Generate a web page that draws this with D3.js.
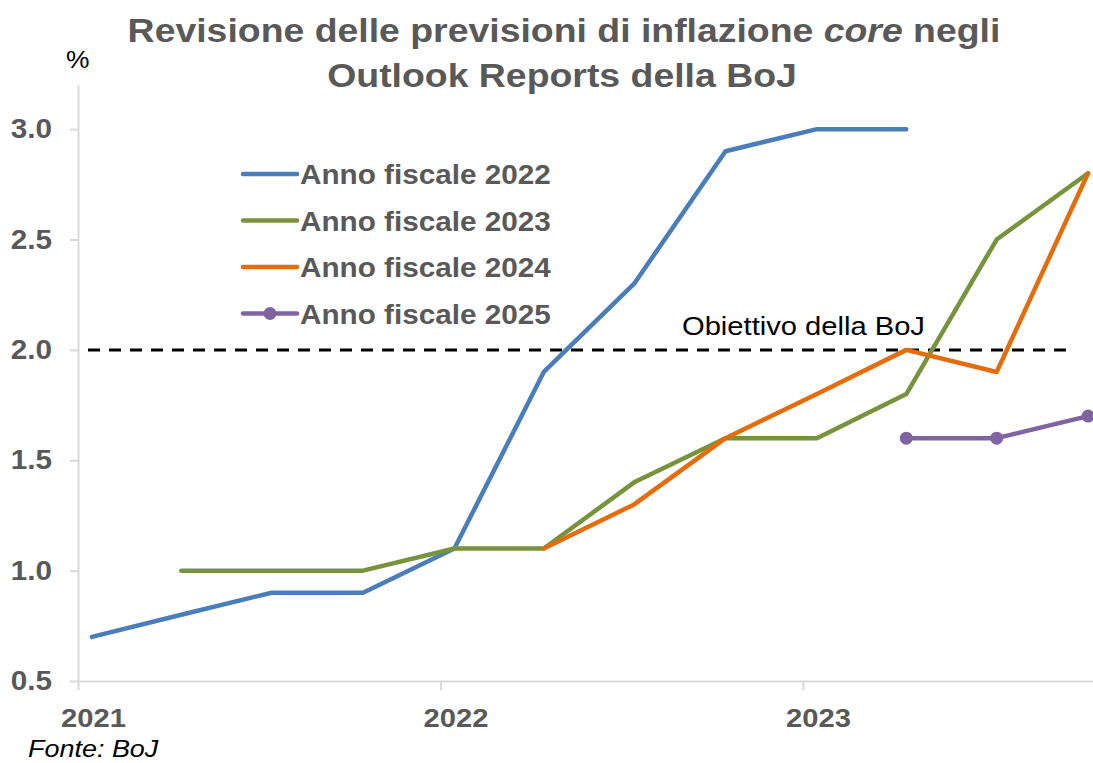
<!DOCTYPE html>
<html>
<head>
<meta charset="utf-8">
<script src="https://cdn.jsdelivr.net/npm/d3@7"></script>
<style>
  body { margin: 0; background: #fff; }
  svg { font-family: "Liberation Sans", Arial, sans-serif; }
</style>
</head>
<body>
<svg width="1093" height="763"></svg>
<script>
// report dates (quarterly Outlook Reports)
var dates = ["2021-01-15","2021-04-15","2021-07-15","2021-10-15",
             "2022-01-15","2022-04-15","2022-07-15","2022-10-15",
             "2023-01-15","2023-04-15","2023-07-15","2023-10-15"];

// forecasts, null = not yet forecast / no longer published
var fy2022 = [0.7, 0.8, 0.9, 0.9, 1.1, 1.9, 2.3, 2.9, 3.0, 3.0, null, null];
var fy2023 = [null, 1.0, 1.0, 1.0, 1.1, 1.1, 1.4, 1.6, 1.6, 1.8, 2.5, 2.8];
var fy2024 = [null, null, null, null, null, 1.1, 1.3, 1.6, 1.8, 2.0, 1.9, 2.8];
var fy2025 = [null, null, null, null, null, null, null, null, null, 1.6, 1.6, 1.7];

var seriesNames = ["Anno fiscale 2022", "Anno fiscale 2023", "Anno fiscale 2024", "Anno fiscale 2025"];
var target = 2.0;
var yTicks = [0.5, 1.0, 1.5, 2.0, 2.5, 3.0];
var xTicks = ["2021-01-01", "2022-01-01", "2023-01-01"];

var svg = d3.select("svg"),
    width = +svg.attr("width"),
    height = +svg.attr("height");

var parse = d3.timeParse("%Y-%m-%d");
var K = 1.1; // the original text is a bit wider than Liberation Sans

// widen text horizontally around its anchor point
function stretch(sel) {
  sel.each(function(){
    var t = d3.select(this);
    var tx = +t.attr("x") || 0, ty = +t.attr("y") || 0;
    t.attr("x", 0).attr("y", 0)
     .attr("transform", "translate(" + tx + "," + ty + ") scale(" + K + ",1)");
  });
}

var x = d3.scaleTime()
    .domain([parse("2021-01-01"), parse("2023-10-20")])
    .range([78, 1093]);

var y = d3.scaleLinear()
    .domain([0.5, 3.2])
    .range([681, 85]);

var colors = ["#4a7ebb", "#77933c", "#e46c0a", "#8064a2"];
var allSeries = [fy2022, fy2023, fy2024, fy2025];

// title
var t1 = svg.append("text")
    .attr("x", 564).attr("y", 42)
    .attr("text-anchor", "middle")
    .style("font-size", "34px").style("font-weight", "bold").style("fill", "#595959");
t1.append("tspan").text("Revisione delle previsioni di inflazione ");
t1.append("tspan").style("font-style", "italic").text("core");
t1.append("tspan").text(" negli");
stretch(t1);

svg.append("text")
    .attr("x", 562).attr("y", 87)
    .attr("text-anchor", "middle")
    .style("font-size", "34px").style("font-weight", "bold").style("fill", "#595959")
    .text("Outlook Reports della BoJ")
    .call(stretch);

svg.append("text")
    .attr("x", 66).attr("y", 68)
    .style("font-size", "24px").style("fill", "#000")
    .text("%")
    .call(stretch);

// y axis
var yAxis = svg.append("g")
    .attr("transform", "translate(78,0)")
    .call(d3.axisLeft(y).tickValues(yTicks).tickFormat(d3.format(".1f")).tickSize(8).tickSizeOuter(0));
yAxis.select(".domain").attr("stroke", "#d9d9d9").attr("stroke-width", 2);
yAxis.selectAll(".tick line").attr("stroke", "#d9d9d9").attr("stroke-width", 2);
yAxis.selectAll(".tick text")
    .attr("x", -26)
    .style("font-size", "27px").style("font-weight", "bold").style("fill", "#595959")
    .style("font-family", "Liberation Sans, Arial, sans-serif")
    .call(stretch);

// x axis
var xAxis = svg.append("g")
    .attr("transform", "translate(0,681)")
    .call(d3.axisBottom(x).tickValues(xTicks.map(parse)).tickFormat(d3.timeFormat("%Y")).tickSize(9).tickSizeOuter(0));
xAxis.select(".domain").attr("stroke", "#d9d9d9").attr("stroke-width", 2);
xAxis.selectAll(".tick line").attr("stroke", "#d9d9d9").attr("stroke-width", 2);
xAxis.selectAll(".tick text")
    .attr("x", 15).attr("y", 27)
    .style("font-size", "26.5px").style("font-weight", "bold").style("fill", "#595959")
    .style("font-family", "Liberation Sans, Arial, sans-serif")
    .call(stretch);

// target line
svg.append("line")
    .attr("x1", 88).attr("x2", 1075)
    .attr("y1", y(target)).attr("y2", y(target))
    .attr("stroke", "#000").attr("stroke-width", 3)
    .attr("stroke-dasharray", "12,9");

svg.append("text")
    .attr("x", 682).attr("y", 335)
    .style("font-size", "26.5px").style("fill", "#000")
    .text("Obiettivo della BoJ")
    .call(stretch);

// lines
var line = d3.line()
    .defined(function(d){ return d.v !== null; })
    .x(function(d){ return x(d.date); })
    .y(function(d){ return y(d.v); });

allSeries.forEach(function(vals, i){
  var pts = vals.map(function(v, j){ return {date: parse(dates[j]), v: v}; });
  svg.append("path")
      .datum(pts)
      .attr("d", line)
      .style("fill", "none")
      .style("stroke", colors[i])
      .style("stroke-width", 4.5)
      .style("stroke-linejoin", "round")
      .style("stroke-linecap", "round");
  if (i === 3) {
    svg.selectAll("circle.fy2025")
      .data(pts.filter(function(d){ return d.v !== null; }))
      .enter().append("circle")
        .attr("class", "fy2025")
        .attr("cx", function(d){ return x(d.date); })
        .attr("cy", function(d){ return y(d.v); })
        .attr("r", 6.5)
        .style("fill", colors[i]);
  }
});

// legend
var legend = svg.append("g");
seriesNames.forEach(function(name, i){
  var ly = 174 + i * 46.5;
  legend.append("line")
      .attr("x1", 243).attr("x2", 297)
      .attr("y1", ly).attr("y2", ly)
      .style("stroke", colors[i]).style("stroke-width", 4.5)
      .style("stroke-linecap", "round");
  if (i === 3) {
    legend.append("circle").attr("cx", 270).attr("cy", ly).attr("r", 6.5).style("fill", colors[i]);
  }
  legend.append("text")
      .attr("x", 300).attr("y", ly + 10)
      .style("font-size", "27px").style("font-weight", "bold").style("fill", "#595959")
      .text(name)
      .call(stretch);
});

svg.append("text")
    .attr("x", 28).attr("y", 757)
    .style("font-size", "24.5px").style("font-style", "italic").style("fill", "#000")
    .text("Fonte: BoJ")
    .call(stretch);
</script>
</body>
</html>
